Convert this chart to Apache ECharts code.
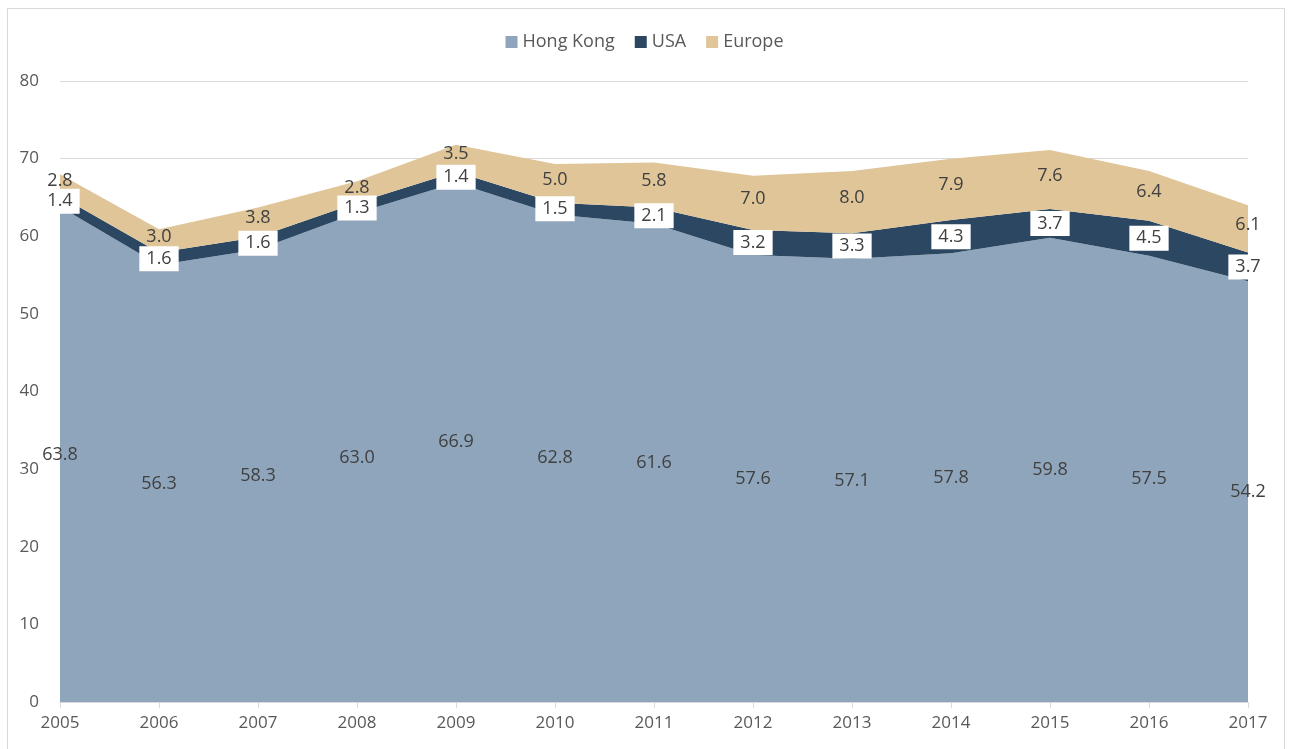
<!DOCTYPE html>
<html><head><meta charset="utf-8">
<script src="https://cdn.jsdelivr.net/npm/echarts@6/dist/echarts.min.js"></script>
<style>html,body{margin:0;padding:0;background:#fff}#c{width:1289px;height:749px}</style>
</head><body><div id="c"></div>
<script>
const years = ['2005','2006','2007','2008','2009','2010','2011','2012','2013','2014','2015','2016','2017'];
const hongKong = [63.8,56.3,58.3,63.0,66.9,62.8,61.6,57.6,57.1,57.8,59.8,57.5,54.2];
const usa = [1.4,1.6,1.6,1.3,1.4,1.5,2.1,3.2,3.3,4.3,3.7,4.5,3.7];
const europe = [2.8,3.0,3.8,2.8,3.5,5.0,5.8,7.0,8.0,7.9,7.6,6.4,6.1];

const colors = {hk:'#8FA5BB', us:'#2C4762', eu:'#DFC597'};
const txt = '#404040';

// label anchor points at the middle of each band (derived from the arrays)
const hkMid = hongKong.map((v,i)=>[i, v/2, v]);
const usMid = usa.map((v,i)=>[i, hongKong[i]+v/2, v]);
const euMid = europe.map((v,i)=>[i, hongKong[i]+usa[i]+v/2, v]);

function areaSeries(name, data, color){
  return {name, type:'line', stack:'total', data, symbol:'none', silent:true,
    lineStyle:{width:0}, itemStyle:{color}, areaStyle:{color, opacity:1}, z:2};
}
function labelSeries(pts, boxed, dy){
  return {type:'scatter', data:pts, symbolSize:1, silent:true, z:5,
    itemStyle:{opacity:0},
    label:{show:true, position:'inside', opacity:1, offset:[0, dy||0], formatter:p=>p.data[2].toFixed(1),
      color:txt, fontSize:18, fontFamily:'Open Sans',
      backgroundColor: boxed ? '#ffffff' : 'transparent',
      padding: boxed ? [4,7,3,7] : 0}};
}

const chart = echarts.init(document.getElementById('c'));
chart.setOption({
  animation:false,
  backgroundColor:'#fff',
  graphic:[{type:'rect', shape:{x:7.5,y:8.5,width:1277,height:760}, style:{fill:'none', stroke:'#d9d9d9', lineWidth:1}, silent:true}],
  legend:{data:['Hong Kong','USA','Europe'], top:28, left:'center', itemWidth:12, itemHeight:12, itemGap:20,
    icon:'rect', textStyle:{color:'#595959', fontSize:18, fontFamily:'Open Sans'}},
  grid:{left:60, right:41, top:81, bottom:47, containLabel:false},
  xAxis:{type:'category', data:years, boundaryGap:false,
    axisLine:{lineStyle:{color:'#d9d9d9'}}, axisTick:{show:true, length:6, lineStyle:{color:'#d9d9d9'}},
    axisLabel:{color:'#595959', fontSize:17, fontFamily:'Open Sans', margin:13, showMaxLabel:true, showMinLabel:true},
    splitLine:{show:false}},
  yAxis:{type:'value', min:0, max:80, interval:10,
    axisLine:{show:false}, axisTick:{show:false},
    axisLabel:{color:'#595959', fontSize:17, fontFamily:'Open Sans', margin:21},
    splitLine:{lineStyle:{color:'#d9d9d9'}}},
  series:[
    areaSeries('Hong Kong', hongKong, colors.hk),
    areaSeries('USA', usa, colors.us),
    areaSeries('Europe', europe, colors.eu),
    labelSeries(hkMid, false),
    labelSeries(usMid, true),
    labelSeries(euMid, false, -4)
  ]
});
</script></body></html>
